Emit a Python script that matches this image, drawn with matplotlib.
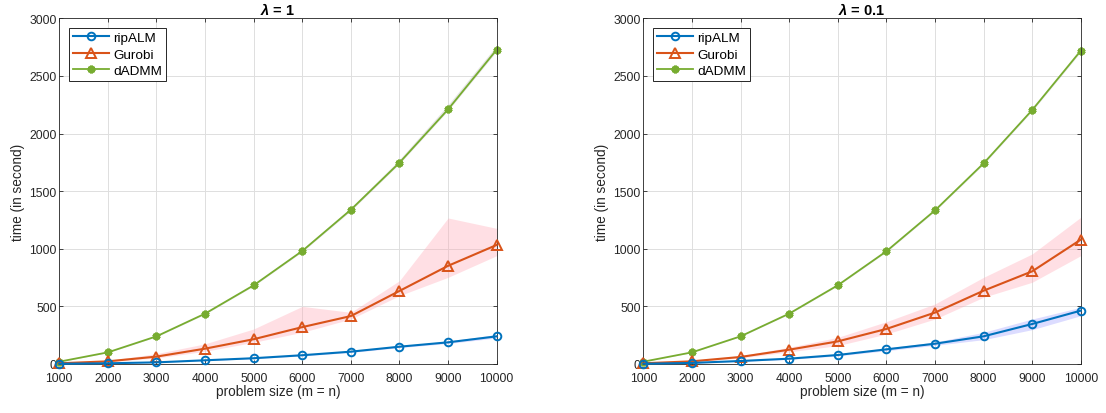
import matplotlib
matplotlib.use("Agg")
import matplotlib.pyplot as plt
import numpy as np

plt.rcParams['font.family'] = ['Liberation Sans', 'DejaVu Sans']
plt.rcParams['mathtext.fontset'] = 'custom'
plt.rcParams['mathtext.it'] = 'Liberation Sans:italic:bold'

sizes = [1000, 2000, 3000, 4000, 5000, 6000, 7000, 8000, 9000, 10000]
series_names = ['ripALM', 'Gurobi', 'dADMM']

# lambda = 1
ripalm_1 = [2, 6, 14, 32, 50, 76, 107, 150, 188, 240]
ripalm_1_lo = [1, 5, 12, 29, 46, 70, 100, 142, 178, 226]
ripalm_1_hi = [3, 7, 16, 35, 55, 82, 114, 158, 198, 256]
gurobi_1 = [6, 23, 64, 133, 215, 320, 416, 634, 852, 1033]
gurobi_1_lo = [3, 18, 52, 110, 188, 275, 390, 593, 752, 940]
gurobi_1_hi = [9, 30, 90, 175, 304, 500, 448, 723, 1267, 1177]
dadmm_1 = [20, 101, 240, 437, 683, 981, 1339, 1747, 2210, 2728]
dadmm_1_lo = [18, 98, 236, 432, 677, 974, 1330, 1738, 2200, 2715]
dadmm_1_hi = [22, 104, 245, 444, 692, 994, 1357, 1775, 2250, 2765]

# lambda = 0.1
ripalm_2 = [2, 9, 26, 46, 78, 127, 176, 240, 347, 463]
ripalm_2_lo = [1, 7, 22, 40, 70, 115, 162, 211, 298, 419]
ripalm_2_hi = [3, 11, 30, 52, 86, 139, 190, 275, 390, 492]
gurobi_2 = [6, 23, 61, 124, 196, 304, 446, 636, 804, 1079]
gurobi_2_lo = [4, 18, 52, 105, 159, 260, 390, 579, 709, 940]
gurobi_2_hi = [8, 28, 72, 145, 231, 367, 521, 752, 955, 1273]
dadmm_2 = [20, 101, 240, 437, 683, 978, 1333, 1741, 2204, 2719]
dadmm_2_lo = [19, 99, 237, 433, 678, 972, 1326, 1733, 2195, 2708]
dadmm_2_hi = [21, 103, 243, 441, 688, 984, 1340, 1749, 2213, 2730]

titles = [r'$\lambda$ = 1', r'$\lambda$ = 0.1']
xticks = [1000, 2000, 3000, 4000, 5000, 6000, 7000, 8000, 9000, 10000]
yticks = [0, 500, 1000, 1500, 2000, 2500, 3000]

c_blue = (0.0, 0.447, 0.741)
c_orange = (0.850, 0.325, 0.098)
c_green = (0.466, 0.674, 0.188)
axc = (0.15, 0.15, 0.15)

fig = plt.figure(figsize=(11.06, 4.14), dpi=100)
positions = [[0.0536, 0.1184, 0.3955, 0.835], [0.5817, 0.1184, 0.3955, 0.835]]

panels = [
    (ripalm_1, ripalm_1_lo, ripalm_1_hi, gurobi_1, gurobi_1_lo, gurobi_1_hi, dadmm_1, dadmm_1_lo, dadmm_1_hi),
    (ripalm_2, ripalm_2_lo, ripalm_2_hi, gurobi_2, gurobi_2_lo, gurobi_2_hi, dadmm_2, dadmm_2_lo, dadmm_2_hi),
]

for i, (pos, data) in enumerate(zip(positions, panels)):
    r, rl, rh, g, gl, gh, d, dl, dh = data
    ax = fig.add_axes(pos)
    ax.fill_between(sizes, dl, dh, color=(0.6, 0.6, 0.6), alpha=0.25, lw=0, zorder=1)
    ax.fill_between(sizes, gl, gh, color=(1.0, 0.65, 0.7), alpha=0.35, lw=0, zorder=1)
    ax.fill_between(sizes, rl, rh, color=(0.55, 0.55, 1.0), alpha=0.3, lw=0, zorder=1)
    ax.plot(sizes, r, color=c_blue, lw=1.5, marker='o', ms=5.5, mfc='none', mew=1.4,
            label=series_names[0], clip_on=False, zorder=4)
    ax.plot(sizes, g, color=c_orange, lw=1.5, marker='^', ms=6.5, mfc='none', mew=1.4,
            label=series_names[1], clip_on=False, zorder=3)
    ax.plot(sizes, d, color=c_green, lw=1.3, marker=(6, 2, 0), ms=5.5, mew=2.2,
            label=series_names[2], clip_on=False, zorder=2)
    ax.set_xlim(1000, 10000)
    ax.set_ylim(0, 3000)
    ax.set_xticks(xticks)
    ax.set_yticks(yticks)
    ax.tick_params(direction='in', top=True, right=True, length=3, width=0.6,
                   labelsize=8.7, colors=axc)
    ax.tick_params(axis='x', pad=6)
    ax.tick_params(axis='y', pad=2)
    ax.grid(True, color=(0.87, 0.87, 0.87), lw=0.7)
    ax.set_axisbelow(True)
    for sp in ax.spines.values():
        sp.set_color(axc)
        sp.set_linewidth(0.6)
    ax.set_xlabel('problem size (m = n)', fontsize=9.8, color=axc, labelpad=0)
    ax.set_ylabel('time (in second)', fontsize=9.8, color=axc, labelpad=3)
    ax.set_title(titles[i], fontsize=10.5, fontweight='bold', pad=3)
    leg = ax.legend(loc='upper left', fontsize=9.7, fancybox=False, framealpha=1,
                    edgecolor=axc, handlelength=2.7, handletextpad=0.3,
                    borderpad=0.3, labelspacing=0.3, borderaxespad=0.7)
    leg.get_frame().set_linewidth(0.7)

fig.savefig('out.png', dpi=100)
